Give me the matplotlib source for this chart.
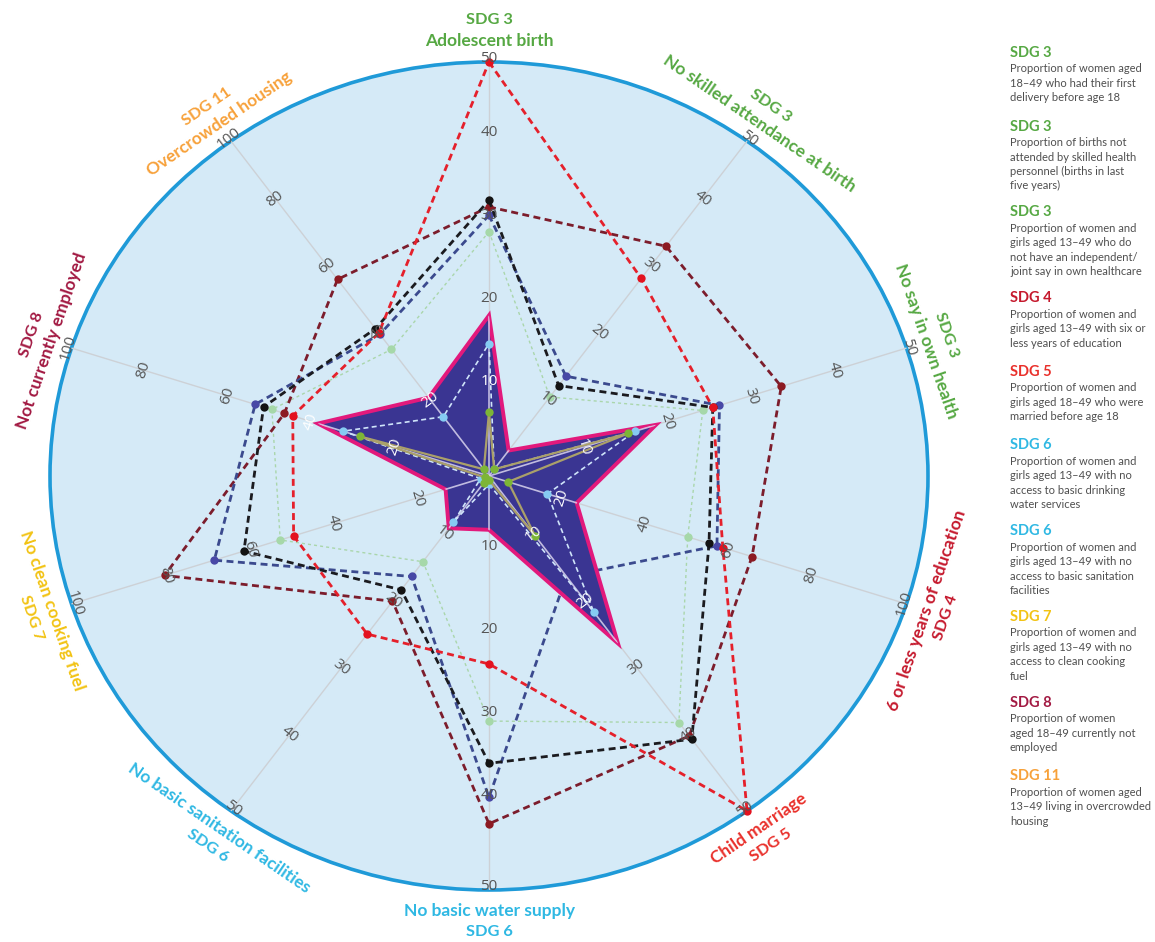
import numpy as np
import matplotlib
matplotlib.use("Agg")
import matplotlib.pyplot as plt
from matplotlib.patches import Circle, Polygon

# ---------------- data ----------------
axis_names = ["Adolescent birth", "No skilled attendance at birth", "No say in own health",
              "6 or less years of education", "Child marriage", "No basic water supply",
              "No basic sanitation facilities", "No clean cooking fuel",
              "Not currently employed", "Overcrowded housing"]
axis_sdg = ["SDG 3", "SDG 3", "SDG 3", "SDG 4", "SDG 5", "SDG 6", "SDG 6", "SDG 7", "SDG 8", "SDG 11"]
axis_max = [50, 50, 50, 100, 50, 50, 50, 100, 100, 100]
tick_fracs = [0.2, 0.4, 0.6, 0.8, 1.0]

red_vals = [50, 29.5, 26.8, 56, 50, 22.7, 23.6, 46.8, 47, 42.7]
maroon_vals = [32.5, 34.3, 35, 63, 38.8, 42, 18.7, 77.7, 49, 58.7]
black_vals = [33.3, 13.5, 26.8, 52.7, 39.3, 34.7, 17, 58.7, 54, 44]
navy_vals = [31.5, 14.9, 27.6, 54.6, 15, 38.8, 15, 65.8, 56, 42.3]
lightgreen_vals = [29.5, 11.8, 25.6, 47.6, 36.8, 29.6, 12.8, 50, 52, 37.8]
lightblue_vals = [16, 1, 17.5, 14, 20.3, 1, 6.9, 2, 35, 17.7]
green_vals = [7.7, 1, 16.7, 4.6, 8.9, 0.5, 1, 1, 31, 2]
star_vals = [19.4, 3.8, 20.0, 21, 25, 6.5, 7.8, 10.4, 41, 23.4]

legend_descriptions = [
    "Proportion of women aged\n18\u201349 who had their first\ndelivery before age 18",
    "Proportion of births not\nattended by skilled health\npersonnel (births in last\nfive years)",
    "Proportion of women and\ngirls aged 13\u201349 who do\nnot have an independent/\njoint say in own healthcare",
    "Proportion of women and\ngirls aged 13\u201349 with six or\nless years of education",
    "Proportion of women and\ngirls aged 18\u201349 who were\nmarried before age 18",
    "Proportion of women and\ngirls aged 13\u201349 with no\naccess to basic drinking\nwater services",
    "Proportion of women and\ngirls aged 13\u201349 with no\naccess to basic sanitation\nfacilities",
    "Proportion of women and\ngirls aged 13\u201349 with no\naccess to clean cooking\nfuel",
    "Proportion of women\naged 18\u201349 currently not\nemployed",
    "Proportion of women aged\n13\u201349 living in overcrowded\nhousing",
]

sdg_colors = {"SDG 3": "#56a843", "SDG 4": "#c5192d", "SDG 5": "#e9302b", "SDG 6": "#2fb8e3",
              "SDG 7": "#f2c314", "SDG 8": "#a21942", "SDG 11": "#f7a13a"}

# ---------------- figure ----------------
plt.rcParams['font.family'] = ['Lato', 'DejaVu Sans']
W, H = 1155, 942
fig = plt.figure(figsize=(W / 100, H / 100), dpi=100)
fig.patch.set_facecolor('white')
CX, CY, RX, RY = 489, 476, 439, 414
ax = fig.add_axes([(CX - RX) / W, (H - CY - RY) / H, 2 * RX / W, 2 * RY / H])
ax.set_xlim(-1, 1)
ax.set_ylim(-1, 1)
ax.set_aspect('auto')
ax.axis('off')

n = len(axis_names)
theta = np.deg2rad(np.arange(n) * 360.0 / n)
S, C = np.sin(theta), np.cos(theta)
maxes = np.asarray(axis_max, dtype=float)


def closed_xy(vals):
    f = np.asarray(vals, dtype=float) / maxes
    x, y = f * S, f * C
    return np.append(x, x[0]), np.append(y, y[0])


def norm_rot(r):
    return ((r + 90.0) % 180.0) - 90.0


# background disc
ax.add_patch(Circle((0, 0), 1.0, facecolor='#d5eaf7', edgecolor='#1f9ad8', lw=2.6,
                    zorder=0, clip_on=False))

# spokes
for i in range(n):
    ax.plot([0, S[i]], [0, C[i]], color='#cdd1d6', lw=1.0, zorder=1, solid_capstyle='butt')

# dashed series (beneath the star)
series_under = [
    (lightgreen_vals, '#aad6ab', '#a6d8a9', 1.0, (0, (2.2, 2.2)), 2.1),
    (maroon_vals, '#7c1d2c', '#8c1a22', 2.0, (0, (2.5, 1.6)), 3.0),
    (navy_vals, '#3b4a8e', '#4848a6', 2.0, (0, (2.5, 1.6)), 3.1),
    (black_vals, '#1b1b1f', '#141414', 2.0, (0, (2.5, 1.6)), 3.2),
    (red_vals, '#e5202b', '#e3121f', 2.0, (0, (2.5, 1.6)), 3.3),
]
for vals, lc, mc, lw, ls, z in series_under:
    x, y = closed_xy(vals)
    ax.plot(x, y, color=lc, lw=lw, linestyle=ls, zorder=z, clip_on=False)
    ax.plot(x[:-1], y[:-1], 'o', color=mc, ms=6, mew=0, zorder=z + 0.05, clip_on=False)

# star (filled)
sx, sy = closed_xy(star_vals)
star = Polygon(np.column_stack([sx[:-1], sy[:-1]]), closed=True, facecolor='#3a3592',
               edgecolor='#e2197c', lw=2.8, joinstyle='miter', zorder=4)
ax.add_patch(star)
for i in range(n):
    ln, = ax.plot([0, S[i]], [0, C[i]], color='#d9d4ee', lw=1.2, zorder=4.5, alpha=0.85)
    ln.set_clip_path(star)

# series inside the star
x, y = closed_xy(lightblue_vals)
ax.plot(x, y, color='#cfe4fa', lw=1.2, linestyle=(0, (3, 2)), zorder=5)
ax.plot(x[:-1], y[:-1], 'o', color='#86cbf2', ms=6, mew=0, zorder=5.1)
x, y = closed_xy(green_vals)
ax.plot(x, y, color='#aaa06a', lw=1.6, zorder=5.3)
ax.plot(x[:-1], y[:-1], 'o', color='#7db536', ms=6, mew=0, zorder=5.4)

# tick labels
PT = 0.72  # points per pixel at dpi 100
for i in range(n):
    phi = np.degrees(np.arctan2(RX * S[i], RY * C[i]))
    rot = norm_rot(-phi)
    up = np.array([-np.sin(np.radians(rot)), np.cos(np.radians(rot))])
    star_f = star_vals[i] / axis_max[i]
    for f in tick_fracs:
        d = 3 if f >= 1.0 else 12
        col = 'white' if f < star_f else '#555555'
        ax.annotate(f"{int(round(f * axis_max[i]))}", xy=(f * S[i], f * C[i]),
                    xytext=(d * PT * up[0], d * PT * up[1]), textcoords='offset points',
                    ha='center', va='center', rotation=rot, rotation_mode='anchor',
                    fontsize=11, color=col, family=['Open Sans', 'DejaVu Sans'],
                    zorder=8, annotation_clip=False)

# axis labels around the circle
for i in range(n):
    tang = -np.degrees(np.arctan2(RY * S[i], RX * C[i]))
    rot = norm_rot(tang)
    nx, ny = RY * S[i], RX * C[i]
    nn = np.hypot(nx, ny)
    nx, ny = nx / nn, ny / nn
    col = sdg_colors[axis_sdg[i]]
    for txt, d, fs in ((axis_names[i], 21, 12.5), (axis_sdg[i], 42, 11.8)):
        ax.annotate(txt, xy=(S[i], C[i]), xytext=(d * PT * nx, d * PT * ny),
                    textcoords='offset points', ha='center', va='center', rotation=rot,
                    rotation_mode='anchor', fontsize=fs, fontweight='bold', color=col,
                    zorder=9, annotation_clip=False)

# legend on the right
LX = 1010
ly = 53.0
for title, desc in zip(axis_sdg, legend_descriptions):
    fig.text(LX / W, 1 - ly / H, title, ha='left', va='center', fontsize=10.5,
             fontweight='bold', color=sdg_colors[title])
    fig.text(LX / W, 1 - (ly + 10.5) / H, desc, ha='left', va='top', fontsize=8.0,
             color='#4f4f4f', linespacing=1.38)
    ly += 37 + 12.2 * (desc.count("\n") + 1)

fig.savefig("out.png", dpi=100, facecolor='white')
